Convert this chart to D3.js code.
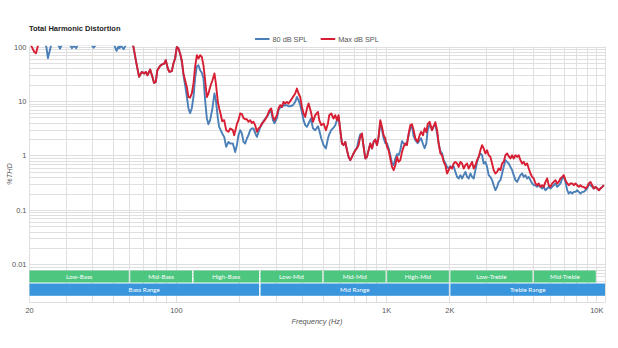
<!DOCTYPE html>
<html><head><meta charset="utf-8">
<script src="https://cdn.jsdelivr.net/npm/d3@7"></script>
<style>
body{margin:0;background:#fff}
svg{display:block}
text{font-family:"Liberation Sans",Arial,sans-serif}
</style>
</head><body>
<svg id="c" width="618" height="348"></svg>
<script>
// Frequency (Hz) of each sample
const freq = [
20, 20.6, 21.2, 21.6, 22.0, 22.4, 23.6, 24.2, 24.6, 25.2,
25.7, 27.5, 28.1, 28.7, 31.3, 32.0, 32.7, 33.5, 34.2, 39.5,
40.6, 41.7, 50.8, 52.2, 53.4, 53.9, 54.8, 56.4, 57.9, 61.2,
62.8, 64.7, 66.8, 68.8, 70.6, 71.9, 73.2, 75.4, 77.3, 78.7,
80.2, 81.6, 84.1, 86.2, 88.1, 89.5, 91.5, 93.1, 95.6, 97.3,
99.1, 101, 102.8, 104.7, 106.7, 108.6, 110.6, 112.7, 114.7, 116.8,
119, 121.2, 123.4, 125.8, 128, 130.4, 132.8, 135.2, 137.7, 140.3,
142.8, 145.5, 149.2, 152.5, 154.9, 158.3, 160.6, 163.3, 166, 169.7,
173.4, 177.8, 181.2, 186.6, 189.3, 191.4, 195, 198.4, 202.2, 206,
209.7, 213.6, 217.6, 221.4, 225.6, 229.8, 233.9, 238.3, 242.8, 247.1,
251.8, 256.5, 261.1, 268.0, 272.7, 278.7, 284.0, 289.4, 294.4, 302.3,
307.7, 313.4, 319.4, 325.0, 331.1, 337.4, 343.3, 352.5, 360.3, 369.5,
376.4, 383.1, 390.3, 397.7, 404.7, 412.3, 420.1, 427.6, 438.9, 448.6,
460.1, 473.9, 480.7, 491.3, 504.0, 517.4, 528.8, 536.4, 548.3, 562.3,
572.9, 583.7, 594.0, 605.2, 616.6, 627.5, 639.3, 651.4, 662.9, 675.4,
688.1, 700.3, 713.5, 726.9, 739.6, 753.5, 767.7, 781.4, 796.2, 811.0,
825.4, 841.0, 856.8, 872.0, 888.4, 905.1, 921.1, 938.4, 956.1, 972.9,
991.3, 1010, 1028, 1047, 1067, 1086, 1106, 1127, 1147, 1168,
1190, 1211, 1234, 1257, 1280, 1304, 1328, 1352, 1377, 1413,
1444, 1467, 1499, 1525, 1554, 1577, 1611, 1654, 1684, 1715,
1748, 1778, 1812, 1846, 1879, 1914, 1950, 1984, 2021, 2059,
2096, 2136, 2176, 2214, 2256, 2298, 2339, 2383, 2428, 2471,
2518, 2564, 2610, 2660, 2710, 2757, 2809, 2862, 2912, 2967,
3023, 3076, 3134, 3194, 3250, 3311, 3374, 3433, 3498, 3564,
3627, 3695, 3764, 3831, 3903, 3977, 4047, 4123, 4201, 4276,
4355, 4437, 4516, 4601, 4688, 4771, 4861, 4952, 5040, 5135,
5232, 5324, 5425, 5527, 5623, 5729, 5837, 5940, 6052, 6166,
6275, 6393, 6514, 6629, 6753, 6881, 7002, 7134, 7269, 7396,
7536, 7678, 7816, 7962, 8110, 8254, 8410, 8568, 8720, 8884,
9051, 9211, 9385, 9561, 9730, 9913, 10100, 10280, 10470, 10670,
10860
];

// %THD at 80 dB SPL
const thd80 = [
130, 125, 115, 110, 120, 125, 125, 98, 61.5, 90,
120, 110, 92, 110, 110, 94, 105, 94, 110, 110,
96, 110, 110, 84, 102, 94, 105, 90, 110, 130,
99, 51.9, 27.9, 34.4, 32.2, 34.4, 29.9, 38.1, 27.9, 21.6,
22.5, 37.0, 44.4, 47.7, 49.1, 56.5, 39.7, 34.4, 35.5, 49.1,
60.7, 99, 92.7, 75, 51.9, 29.9, 19.6, 11.9, 7.4, 6.0,
7.4, 11.9, 26.4, 43.8, 45.7, 37.0, 33.3, 26.4, 10.4, 4.85,
3.76, 4.46, 7.4, 13.8, 10.4, 4.85, 3.36, 2.92, 2.54, 2.20,
1.44, 1.78, 1.66, 1.66, 1.36, 1.16, 1.55, 2.36, 2.92, 2.54,
1.78, 1.66, 2.05, 2.36, 2.92, 3.14, 3.14, 2.57, 2.20, 2.68,
3.31, 3.76, 4.3, 4.95, 5.28, 6.25, 6.52, 4.46, 3.92, 4.85,
6.80, 7.73, 7.73, 8.41, 8.41, 8.41, 8.06, 8.06, 8.41, 9.67,
11.9, 10.4, 8.41, 6.25, 4.46, 3.61, 3.36, 3.87, 4.79, 3.18,
2.92, 3.46, 2.92, 2.08, 1.55, 1.35, 2.05, 2.46, 2.92, 3.24,
3.61, 4.46, 5.12, 2.92, 1.66, 1.55, 1.78, 1.25, 0.943, 0.82,
0.943, 1.09, 1.25, 1.40, 1.91, 2.46, 2.26, 1.48, 0.881, 0.943,
1.25, 1.66, 1.35, 1.78, 1.97, 1.55, 2.20, 4.09, 2.92, 2.08,
1.68, 1.68, 1.36, 1.01, 0.722, 0.663, 0.881, 1.06, 1.01, 1.25,
1.83, 1.68, 1.55, 1.76, 2.36, 3.18, 3.46, 2.26, 1.91, 1.68,
1.91, 2.08, 1.61, 1.36, 1.68, 2.92, 3.76, 2.92, 3.46, 3.61,
2.57, 1.66, 1.20, 1.10, 0.82, 0.722, 0.61, 0.584, 0.636, 0.584,
0.636, 0.499, 0.404, 0.378, 0.435, 0.378, 0.435, 0.499, 0.404, 0.378,
0.467, 0.404, 0.378, 0.537, 0.763, 0.943, 1.09, 1.01, 0.713, 0.763,
0.617, 0.435, 0.404, 0.352, 0.284, 0.23, 0.265, 0.327, 0.352, 0.467,
0.617, 0.82, 0.763, 0.713, 0.617, 0.537, 0.435, 0.352, 0.327, 0.378,
0.435, 0.467, 0.404, 0.435, 0.378, 0.404, 0.352, 0.306, 0.284, 0.284,
0.265, 0.284, 0.265, 0.247, 0.265, 0.23, 0.247, 0.265, 0.247, 0.265,
0.284, 0.306, 0.265, 0.284, 0.306, 0.378, 0.404, 0.327, 0.23, 0.2,
0.214, 0.2, 0.214, 0.214, 0.23, 0.214, 0.2, 0.214, 0.214, 0.23,
0.247, 0.297, 0.284, 0.265, 0.247, 0.265, 0.247, 0.23, 0.247, 0.265,
0.284
];

// %THD at max dB SPL
const thdMax = [
130, 100, 80, 76, 100, 130, 130, 130, 130, 130,
130, 130, 130, 130, 130, 130, 130, 130, 130, 130,
130, 130, 130, 130, 130, 130, 130, 130, 130, 130,
99, 51.9, 27.9, 34.4, 32.2, 34.4, 29.9, 38.1, 27.9, 21.6,
22.5, 37.0, 44.4, 47.7, 49.1, 56.5, 39.7, 34.4, 35.5, 49.1,
60.7, 99, 92.7, 75, 56.5, 32.2, 24.2, 18.2, 11.9, 11.6,
13.8, 21.1, 42.5, 69.8, 60.7, 69.8, 64.9, 45.7, 24.2, 11.9,
13.8, 18.2, 24.2, 32.2, 21.1, 9.67, 7.4, 5.74, 4.27, 4.46,
2.92, 2.72, 3.14, 2.92, 2.36, 2.80, 3.76, 4.46, 5.92, 5.74,
4.85, 4.65, 4.65, 4.15, 4.46, 3.97, 4.15, 3.61, 2.72, 3.14,
3.36, 3.87, 4.15, 4.79, 5.51, 6.80, 7.31, 5.12, 4.46, 5.51,
7.31, 8.41, 7.82, 9.67, 9.03, 9.67, 9.03, 10.4, 11.9, 13.8,
17.0, 13.8, 11.9, 7.82, 5.92, 5.12, 7.31, 9.03, 6.33, 4.15,
5.51, 6.33, 4.46, 3.61, 3.87, 2.92, 3.87, 5.51, 5.92, 4.79,
5.51, 4.46, 5.51, 2.92, 1.66, 1.55, 1.78, 1.25, 0.943, 0.82,
0.943, 1.09, 1.25, 1.35, 1.55, 2.20, 2.54, 1.44, 0.881, 0.943,
1.25, 1.66, 1.35, 1.78, 1.97, 1.55, 2.20, 4.46, 3.36, 2.36,
2.05, 1.44, 1.25, 0.881, 0.617, 0.537, 0.663, 0.943, 0.763, 0.82,
1.16, 1.44, 1.66, 1.55, 2.54, 3.61, 3.76, 2.92, 2.08, 1.78,
2.36, 2.72, 2.36, 3.18, 2.68, 3.76, 4.15, 2.92, 3.46, 4.09,
2.92, 1.66, 1.09, 1.01, 0.763, 0.663, 0.467, 0.537, 0.617, 0.577,
0.713, 0.763, 0.713, 0.617, 0.763, 0.713, 0.577, 0.663, 0.713, 0.577,
0.663, 0.763, 0.577, 0.663, 0.82, 0.943, 1.25, 1.55, 1.35, 1.09,
1.25, 1.01, 0.943, 0.713, 0.537, 0.467, 0.499, 0.577, 0.537, 0.713,
0.763, 1.01, 1.09, 0.971, 0.881, 1.01, 0.881, 1.01, 0.943, 1.01,
0.82, 0.713, 0.763, 0.663, 0.713, 0.577, 0.467, 0.404, 0.378, 0.306,
0.284, 0.306, 0.265, 0.284, 0.265, 0.327, 0.378, 0.284, 0.265, 0.306,
0.327, 0.352, 0.306, 0.327, 0.378, 0.404, 0.435, 0.352, 0.306, 0.284,
0.306, 0.306, 0.284, 0.306, 0.284, 0.265, 0.284, 0.265, 0.265, 0.247,
0.265, 0.306, 0.327, 0.284, 0.247, 0.265, 0.247, 0.23, 0.247, 0.265,
0.284
];

const seriesNames = ["80 dB SPL", "Max dB SPL"];
const xTickValues = [20, 100, 1000, 2000, 10000];
const xTickLabels = ["20", "100", "1K", "2K", "10K"];
const yTickValues = [100, 10, 1, 0.1, 0.01];
const yTickLabels = ["100", "10", "1", "0.1", "0.01"];
const bandNames = ["Low-Bass", "Mid-Bass", "High-Bass", "Low-Mid", "Mid-Mid", "High-Mid", "Low-Treble", "Mid-Treble"];
const bandStarts = [20, 60, 120, 250, 500, 1000, 2000, 5000];
const bandEnds = [60, 120, 250, 500, 1000, 2000, 5000, 10000];
const rangeNames = ["Bass Range", "Mid Range", "Treble Range"];
const rangeStarts = [20, 250, 2000];
const rangeEnds = [250, 2000, 11000];

const svg = d3.select("#c");
const L = 29, R = 605, T = 46.7, B = 302.3;
const x = d3.scaleLog().domain([20, 11000]).range([L, R]);
const y = d3.scaleLog().domain([0.002, 100]).range([B, T]);
const gridColor = "#dfdfdf";

// grid
const vGrid = [];
[10, 100, 1000, 10000].forEach(d => { for (let k = 1; k <= 9; k++) { const v = d * k; if (v >= 20 && v <= 11000) vGrid.push(v); } });
const hGrid = [];
[0.001, 0.01, 0.1, 1, 10, 100].forEach(d => { for (let k = 1; k <= 9; k++) { const v = d * k; if (v >= 0.002 && v <= 100.001) hGrid.push(v); } });
const g = svg.append("g");
g.selectAll(".hg").data(hGrid).join("line")
  .attr("x1", L).attr("x2", R).attr("y1", d => Math.round(y(d)) + 0.5).attr("y2", d => Math.round(y(d)) + 0.5)
  .attr("stroke", gridColor).attr("stroke-width", 1);
g.selectAll(".vg").data(vGrid).join("line")
  .attr("x1", d => Math.round(x(d)) + 0.5).attr("x2", d => Math.round(x(d)) + 0.5).attr("y1", T).attr("y2", B)
  .attr("stroke", gridColor).attr("stroke-width", 1);
g.append("line").attr("x1", R + 0.5).attr("x2", R + 0.5).attr("y1", T).attr("y2", B).attr("stroke", gridColor);

// lines
svg.append("clipPath").attr("id", "clip").append("rect").attr("x", L).attr("y", T - 1).attr("width", R - L).attr("height", B - T + 1);
const line = d3.line().x(d => x(d[0])).y(d => y(d[1])).curve(d3.curveLinear);
const plot = svg.append("g").attr("clip-path", "url(#clip)");
const colors = ["#4b7fb7", "#d81e32"];
[thd80, thdMax].forEach((vals, i) => {
  plot.append("path").datum(freq.map((f, j) => [f, vals[j]]))
    .attr("d", line).attr("fill", "none").attr("stroke", colors[i])
    .attr("stroke-width", 1.9).attr("stroke-linejoin", "round");
});

// bands
const bandG = svg.append("g");
bandNames.forEach((n, i) => {
  const x0 = x(bandStarts[i]) + (i === 0 ? 0.5 : 1), x1 = x(bandEnds[i]) - 0.5;
  bandG.append("rect").attr("x", x0).attr("y", 270.5).attr("width", x1 - x0).attr("height", 12).attr("fill", "#4dc680");
  bandG.append("text").attr("x", (x0 + x1) / 2).attr("y", 276.7).attr("dy", "0.35em")
    .attr("text-anchor", "middle").attr("fill", "#fff").style("font-family", "Lato, sans-serif").style("font-size", "6.3px").text(n);
});
rangeNames.forEach((n, i) => {
  const x0 = x(rangeStarts[i]) + (i === 0 ? 0.5 : 1), x1 = Math.min(x(rangeEnds[i]), R) - (i === 2 ? 0 : 0.5);
  bandG.append("rect").attr("x", x0).attr("y", 283.5).attr("width", x1 - x0).attr("height", 12.3).attr("fill", "#3a96dc");
  bandG.append("text").attr("x", (x0 + x1) / 2).attr("y", 289.7).attr("dy", "0.35em")
    .attr("text-anchor", "middle").attr("fill", "#fff").style("font-family", "Lato, sans-serif").style("font-size", "6.3px").text(n);
});

// axes
const xAxis = d3.axisBottom(x).tickValues(xTickValues).tickFormat((d, i) => xTickLabels[i]).tickSize(0).tickPadding(5.6);
const gx = svg.append("g").attr("transform", `translate(0,${B})`).call(xAxis);
gx.select(".domain").remove();
gx.selectAll("text").attr("fill", "#555").style("font-size", "7.4px").style("font-family", '"Liberation Sans",Arial,sans-serif');
const yAxis = d3.axisLeft(y).tickValues(yTickValues).tickFormat((d, i) => yTickLabels[i]).tickSize(0).tickPadding(2.6);
const gy = svg.append("g").attr("transform", `translate(${L},0)`).call(yAxis);
gy.select(".domain").remove();
gy.selectAll("text").attr("fill", "#555").style("font-size", "7.4px").style("font-family", '"Liberation Sans",Arial,sans-serif');

// titles
svg.append("text").attr("x", 29).attr("y", 30.6).attr("fill", "#222").style("font-weight", "bold").style("font-size", "7.5px").text("Total Harmonic Distortion");
svg.append("text").attr("transform", "translate(11.6,174) rotate(-90)").attr("text-anchor", "middle").attr("fill", "#555")
  .style("font-style", "italic").style("font-size", "7.4px").text("%THD");
svg.append("text").attr("x", 317).attr("y", 324).attr("text-anchor", "middle").attr("fill", "#555")
  .style("font-style", "italic").style("font-size", "7.4px").text("Frequency (Hz)");

// legend
const legX = [255, 320.7];
seriesNames.forEach((n, i) => {
  svg.append("line").attr("x1", legX[i]).attr("x2", legX[i] + 14.5).attr("y1", 39).attr("y2", 39).attr("stroke", colors[i]).attr("stroke-width", 2);
  svg.append("text").attr("x", legX[i] + 17.5).attr("y", 41.6).attr("fill", "#555").style("font-size", "7.3px").text(n);
});
</script>
</body></html>
